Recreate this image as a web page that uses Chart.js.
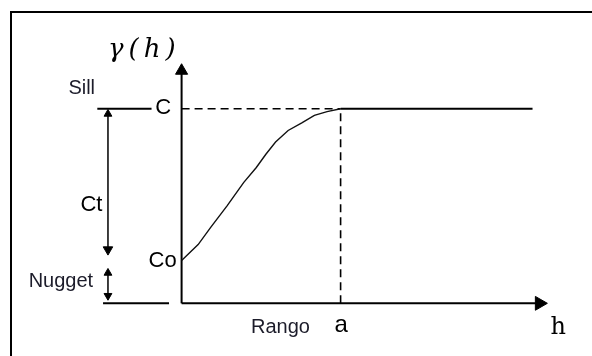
<!DOCTYPE html>
<html>
<head>
<meta charset="utf-8">
<script src="https://cdn.jsdelivr.net/npm/chart.js@4/dist/chart.umd.min.js"></script>
<style>
    html, body { margin: 0; padding: 0; background: #fff; overflow: hidden; }
    #wrap { position: relative; width: 592px; height: 356px; overflow: hidden; }
    .edge { position: absolute; background: #000; }
    #edgeTop { left: 10px; top: 11px; width: 582px; height: 2px; }
    #edgeLeft { left: 10px; top: 11px; width: 2px; height: 345px; }
    canvas { position: absolute; left: 0; top: 0; }
</style>
</head>
<body>
<div id="wrap">
    <div class="edge" id="edgeTop"></div>
    <div class="edge" id="edgeLeft"></div>
    <canvas id="variogram" width="592" height="356"></canvas>
</div>
<script>
// semivariogram values (h in units where range a = 10, gamma where sill C = 10)
const rangeA = 10;
const sillC = 10;
const nuggetCo = 2.2;
const plateauEnd = 22.07;
const axisHEnd = 22.5;
const axisGammaEnd = 11.95;

const curveH =     [0,   1.04, 1.83, 2.87, 3.9, 4.7,  5.3,  5.91, 6.7,  7.56, 8.35, 9.15, 10];
const curveGamma = [2.2, 3.02, 3.9,  5.02, 6.2, 6.98, 7.66, 8.29, 8.88, 9.27, 9.66, 9.85, 10];

// side markers: sill / base guide lines and the Ct / Nugget arrows
const guideX = -4.63;
const sillGuide = [-5.3, -1.89];
const baseGuide = [-4.94, -0.79];
const ctArrow = [9.73, 2.76];
const nuggetArrow = [1.56, 0.39];

// text labels (anchor = centre x, baseline y)
const labelTexts = ["Sill", "C", "Ct", "Co", "Nugget", "Rango", "a", "h"];
const labelX =     [-6.28, -1.16, -5.67, -1.19, -7.59, 6.22, 10.03, 23.69];
const labelY =     [10.78, 9.71, 4.73, 1.85, 0.83, -1.51, -1.46, -1.56];
const yTitle = "γ(h)";
const yTitleX = -4.63;
const yTitleY = 12.68;

const labelFonts = [
    "20px 'Liberation Sans', Arial",
    "22px 'Liberation Sans', Arial",
    "22px 'Liberation Sans', Arial",
    "22px 'Liberation Sans', Arial",
    "20px 'Liberation Sans', Arial",
    "20px 'Liberation Sans', Arial",
    "24px 'Liberation Sans', Arial",
    "24px 'DejaVu Serif', serif",
];
const labelColors = ["#1c1c2a", "#000", "#000", "#000", "#1c1c2a", "#1c1c2a", "#000", "#000"];

function seg(x0, y0, x1, y1) {
    return [{ x: x0, y: y0 }, { x: x1, y: y1 }];
}

const textPlugin = {
    id: "textLabels",
    afterDatasetsDraw(chart) {
        const ctx = chart.ctx;
        const xs = chart.scales.x;
        const ys = chart.scales.y;
        ctx.save();
        ctx.textBaseline = "alphabetic";
        ctx.textAlign = "center";
        labelTexts.forEach((t, i) => {
            ctx.font = labelFonts[i];
            ctx.fillStyle = labelColors[i];
            ctx.fillText(t, xs.getPixelForValue(labelX[i]), ys.getPixelForValue(labelY[i]));
        });
        ctx.font = "italic 26px 'DejaVu Serif', serif";
        ctx.fillStyle = "#000";
        ctx.textAlign = "left";
        if ("letterSpacing" in ctx) ctx.letterSpacing = "5px";
        ctx.fillText(yTitle, xs.getPixelForValue(yTitleX), ys.getPixelForValue(yTitleY));
        ctx.restore();
    }
};

const solid = { borderColor: "#000", borderWidth: 2, pointRadius: 0, showLine: true, fill: false };
const dashed = { ...solid, borderWidth: 1.6, borderDash: [8, 5] };

const chart = new Chart(document.getElementById("variogram"), {
    type: "scatter",
    data: {
        datasets: [
            {
                ...solid,
                borderWidth: 1.4,
                borderColor: "#111",
                data: curveH.map((h, i) => ({ x: h, y: curveGamma[i] })),
            },
            { ...solid, data: seg(rangeA, sillC, plateauEnd, sillC) },
            { ...dashed, data: seg(0, sillC, rangeA, sillC) },
            { ...dashed, data: seg(rangeA, 0, rangeA, sillC) },
            { ...solid, data: seg(0, 0, 0, axisGammaEnd - 0.1) },
            { ...solid, data: seg(0, 0, axisHEnd, 0) },
            { ...solid, data: seg(sillGuide[0], sillC, sillGuide[1], sillC) },
            { ...solid, data: seg(baseGuide[0], 0, baseGuide[1], 0) },
            { ...solid, borderWidth: 1.5, data: seg(guideX, ctArrow[0], guideX, ctArrow[1]) },
            { ...solid, borderWidth: 1.5, data: seg(guideX, nuggetArrow[0], guideX, nuggetArrow[1]) },
            {
                // arrow heads
                showLine: false,
                data: [
                    { x: 0, y: axisGammaEnd },
                    { x: axisHEnd, y: 0 },
                    { x: guideX, y: ctArrow[0] },
                    { x: guideX, y: ctArrow[1] },
                    { x: guideX, y: nuggetArrow[0] },
                    { x: guideX, y: nuggetArrow[1] },
                ],
                pointStyle: "triangle",
                pointRadius: [7, 8, 4.5, 5.5, 4.5, 4.5],
                pointRotation: [0, 90, 0, 180, 0, 180],
                backgroundColor: "#000",
                borderColor: "#000",
                borderWidth: 1,
            },
        ],
    },
    options: {
        responsive: false,
        animation: false,
        layout: { padding: 0 },
        plugins: { legend: { display: false }, tooltip: { enabled: false } },
        events: [],
        scales: {
            x: { type: "linear", display: false, min: -10.854, max: 25.244 },
            y: { type: "linear", display: false, min: -2.244, max: 15.122 },
        },
    },
    plugins: [textPlugin],
});
</script>
</body>
</html>
